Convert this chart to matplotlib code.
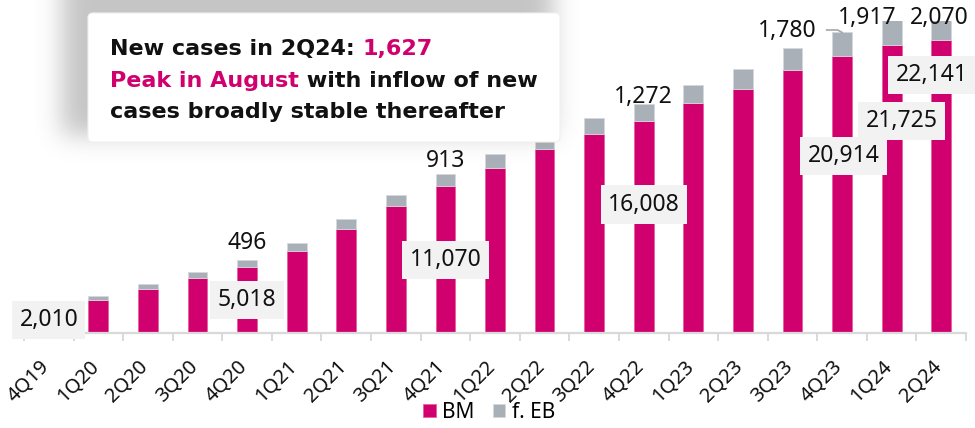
import numpy as np
import matplotlib
matplotlib.use("Agg")
import matplotlib.pyplot as plt
from matplotlib.patches import FancyBboxPatch

# ---------------- data ----------------
categories = ["4Q19", "1Q20", "2Q20", "3Q20", "4Q20", "1Q21", "2Q21", "3Q21", "4Q21",
              "1Q22", "2Q22", "3Q22", "4Q22", "1Q23", "2Q23", "3Q23", "4Q23", "1Q24", "2Q24"]
bm_values = [2010, 2470, 3345, 4175, 5018, 6215, 7875, 9610, 11070,
             12480, 13890, 15050, 16008, 17365, 18445, 19880, 20914, 21725, 22141]
eb_values = [110, 300, 355, 410, 496, 580, 710, 830, 913,
             1057, 1150, 1163, 1272, 1382, 1487, 1640, 1780, 1917, 2070]
series_names = ["BM", "f. EB"]

# labelled points (index into categories)
bm_label_idx = [0, 4, 8, 12, 16, 17, 18]
eb_label_idx = [4, 8, 12, 16, 17, 18]

MAGENTA = "#D0006F"
GREY = "#A9B0B7"
FONT = "Noto Sans"

W, H = 975, 428
fig = plt.figure(figsize=(W / 100, H / 100), dpi=100)
plt.rcParams['font.family'] = [FONT, 'DejaVu Sans']

def px2fig(x0, y0, x1, y1):
    return [x0 / W, 1 - y1 / H, (x1 - x0) / W, (y1 - y0) / H]

ax = fig.add_axes(px2fig(24, 21, 966, 333))
x = np.arange(len(categories))
bw = 0.40
ax.bar(x, bm_values, bw, color=MAGENTA, edgecolor="#E8609F", linewidth=0.6, label=series_names[0], zorder=2)
ax.bar(x, eb_values, bw, bottom=bm_values, color=GREY, edgecolor="#D5D9DD", linewidth=0.6,
       label=series_names[1], zorder=2)

ax.set_xlim(-0.5, len(categories) - 0.5)
ax.set_ylim(0, 23556)
for s in ["top", "right", "left"]:
    ax.spines[s].set_visible(False)
ax.spines["bottom"].set_color("#D9D9D9")
ax.spines["bottom"].set_linewidth(1.6)
ax.set_yticks([])
ax.set_xticks(np.arange(len(categories) + 1) - 0.5, minor=False)
ax.set_xticklabels([])
ax.tick_params(axis="x", which="major", length=6, width=1.4, color="#D9D9D9")
for i, c in enumerate(categories):
    ax.annotate(c, xy=(i, 0), xycoords=("data", "axes fraction"),
                xytext=(-7, -17), textcoords="offset points",
                rotation=45, ha="right", va="top", rotation_mode="anchor",
                fontsize=14.5, color="#111111", annotation_clip=False)

# BM labels (grey boxes)
bm_label_pos = [(0.0, 980), (4.0, 2490), (8.0, 5510), (12.0, 9690),
                (16.03, 13360), (17.2, 16000), (17.81, 19480)]
for idx, (lx, ly) in zip(bm_label_idx, bm_label_pos):
    ax.text(lx, ly, f"{bm_values[idx]:,}", ha="center", va="center", fontsize=16.5,
            color="#111111", zorder=4,
            bbox=dict(boxstyle="square,pad=0.32", fc="#F2F2F2", ec="none"))

# EB labels above bars
eb_label_pos = [(4.0, 6820), (8.0, 12990), (12.0, 17820), (14.9, 22800), (16.5, 23780), (17.97, 23780)]
for idx, (lx, ly) in zip(eb_label_idx, eb_label_pos):
    ax.text(lx, ly, f"{eb_values[idx]:,}", ha="center", va="center", fontsize=16.5,
            color="#111111", zorder=4, clip_on=False)
# leader line for 4Q23
top4q23 = bm_values[16] + eb_values[16]
ax.plot([15.69, 15.91, 16.0], [22876, 22876, top4q23], color="#A6A6A6", lw=1.2,
        clip_on=False, zorder=3)

# legend
h, l = ax.get_legend_handles_labels()
leg = fig.legend(h, l, loc="center", bbox_to_anchor=(489 / W, 1 - 412 / H), ncol=2,
                 frameon=False, fontsize=15, handlelength=0.6, handleheight=0.6,
                 handletextpad=0.3, columnspacing=0.9)

# ---------------- annotation box overlay ----------------
ov = fig.add_axes([0, 0, 1, 1], zorder=5)
ov.set_xlim(0, W)
ov.set_ylim(H, 0)
ov.axis("off")

# blurred shadow
yy, xx = np.mgrid[0:H, 0:W]
mask = ((xx >= 62) & (xx <= 552) & (yy >= -30) & (yy <= 134)).astype(float)
def blur(a, s):
    r = int(3 * s)
    k = np.exp(-0.5 * (np.arange(-r, r + 1) / s) ** 2)
    k /= k.sum()
    a = np.apply_along_axis(lambda m: np.convolve(m, k, mode="same"), 0, a)
    a = np.apply_along_axis(lambda m: np.convolve(m, k, mode="same"), 1, a)
    return a
pad = 40
big = np.zeros((H + 2 * pad, W + 2 * pad))
big[pad:-pad, pad:-pad] = mask
big[:pad, pad + 62:pad + 553] = 1.0
sh = blur(big, 12)[pad:-pad, pad:-pad]
rgba = np.zeros((H, W, 4))
rgba[..., :3] = 0.5
rgba[..., 3] = sh * 0.45
ov.imshow(rgba, extent=(0, W, H, 0), interpolation="bilinear", zorder=1)

box = FancyBboxPatch((88, 13), 560 - 88, 142 - 13, boxstyle="round,pad=0,rounding_size=5",
                     fc="white", ec="#F0F0F0", lw=0.8, zorder=2)
ov.add_patch(box)

fig.canvas.draw()
renderer = fig.canvas.get_renderer()

def runs(parts, x0, y0, size=16):
    xpos = x0
    for txt, col in parts:
        t = ov.text(xpos, y0, txt, color=col, fontsize=size, fontweight="bold",
                    family="DejaVu Sans", ha="left", va="baseline", zorder=3)
        bb = t.get_window_extent(renderer=renderer)
        xpos += bb.width
    return xpos

runs([("New cases in 2Q24: ", "#111111"), ("1,627", MAGENTA)], 110, 55)
runs([("Peak in August", MAGENTA), (" with inflow of new", "#111111")], 110, 87)
runs([("cases broadly stable thereafter", "#111111")], 110, 118)

fig.savefig("out.png", dpi=100)
